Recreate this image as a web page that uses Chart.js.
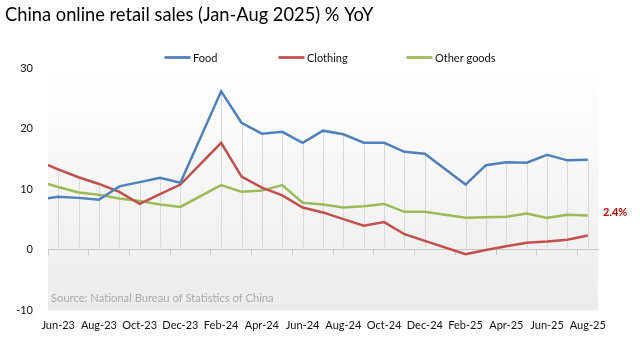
<!DOCTYPE html>
<html>
<head>
<meta charset="utf-8">
<script src="https://cdn.jsdelivr.net/npm/chart.js@4/dist/chart.umd.min.js"></script>
<style>
  html, body { margin: 0; padding: 0; background: #ffffff; }
  canvas { display: block; }
</style>
</head>
<body>
<canvas id="chart" width="640" height="339"></canvas>
<script>
// Monthly YoY growth (%) of online retail sales by category.
// January figures are reported together with February, so they are left empty.
const months = [
  'May-23', 'Jun-23', 'Jul-23', 'Aug-23', 'Sep-23', 'Oct-23', 'Nov-23', 'Dec-23',
  'Jan-24', 'Feb-24', 'Mar-24', 'Apr-24', 'May-24', 'Jun-24', 'Jul-24', 'Aug-24',
  'Sep-24', 'Oct-24', 'Nov-24', 'Dec-24', 'Jan-25', 'Feb-25', 'Mar-25', 'Apr-25',
  'May-25', 'Jun-25', 'Jul-25', 'Aug-25'
];
const food = [
  8.3, 8.8, 8.6, 8.3, 10.5, 11.2, 11.9, 11.1,
  null, 26.2, 21.0, 19.2, 19.5, 17.7, 19.7, 19.1,
  17.7, 17.7, 16.2, 15.9, null, 10.8, 14.0, 14.5,
  14.4, 15.7, 14.8, 14.9
];
const clothing = [
  14.7, 13.3, 12.0, 10.9, 9.6, 7.6, 9.2, 10.8,
  null, 17.7, 12.1, 10.3, 9.0, 7.0, 6.2, 5.1,
  4.0, 4.6, 2.6, 1.5, null, -0.7, 0.0, 0.6,
  1.2, 1.4, 1.7, 2.4
];
const otherGoods = [
  11.4, 10.4, 9.5, 9.1, 8.5, 8.1, 7.5, 7.1,
  null, 10.7, 9.6, 9.8, 10.7, 7.8, 7.5, 7.0,
  7.2, 7.6, 6.3, 6.3, null, 5.3, 5.4, 5.5,
  6.0, 5.3, 5.8, 5.7
];
const seriesNames = ['Food', 'Clothing', 'Other goods'];
const seriesColors = ['#4f81bd', '#c0504d', '#9bbb59'];
const firstMonth = 'Jun-23';
const yMin = -10;
const yMax = 30;
const yStep = 10;
const titleText = 'China online retail sales (Jan-Aug 2025) % YoY';
const sourceText = 'Source: National Bureau of Statistics of China';

const FONT = 'Lato, "Open Sans", "DejaVu Sans", sans-serif';
const TEXT_COLOR = '#111111';
const firstIndex = months.indexOf(firstMonth);

// Soft vertical gradient behind the plot area.
const plotBackground = {
  id: 'plotBackground',
  beforeDraw(chart) {
    const { ctx, chartArea: a } = chart;
    const g = ctx.createLinearGradient(0, a.top, 0, a.bottom);
    g.addColorStop(0, '#ffffff');
    g.addColorStop(1, '#ececec');
    ctx.save();
    ctx.fillStyle = g;
    ctx.fillRect(a.left, a.top, a.right - a.left, a.bottom - a.top);
    ctx.restore();
  }
};

// Drop lines from the highest series at each month down to the zero line.
const dropLines = {
  id: 'dropLines',
  beforeDatasetsDraw(chart) {
    const { ctx } = chart;
    const xs = chart.scales.x;
    const ys = chart.scales.y;
    const zero = ys.getPixelForValue(0);
    ctx.save();
    ctx.strokeStyle = '#d9d9d9';
    ctx.lineWidth = 1;
    for (let i = xs.min; i <= xs.max; i++) {
      const vals = chart.data.datasets
        .map(d => d.data[i])
        .filter(v => v !== null && v !== undefined);
      if (!vals.length) continue;
      const top = Math.max(...vals);
      if (top <= 0) continue;
      const px = Math.round(xs.getPixelForValue(i)) + 0.5;
      ctx.beginPath();
      ctx.moveTo(px, ys.getPixelForValue(top));
      ctx.lineTo(px, zero);
      ctx.stroke();
    }
    ctx.restore();
  }
};

// Title, legend, source note and the end-value callout.
const chartText = {
  id: 'chartText',
  afterDraw(chart) {
    const { ctx, chartArea: a } = chart;
    const ys = chart.scales.y;
    ctx.save();

    ctx.fillStyle = '#000000';
    ctx.font = `18.3px ${FONT}`;
    ctx.textBaseline = 'alphabetic';
    ctx.textAlign = 'left';
    ctx.fillText(titleText, 5, 21);

    const legendStarts = [164.5, 278.5, 406.5];
    ctx.font = `11px ${FONT}`;
    chart.data.datasets.forEach((ds, i) => {
      const sx = legendStarts[i];
      ctx.strokeStyle = ds.borderColor;
      ctx.lineWidth = 2.75;
      ctx.beginPath();
      ctx.moveTo(sx, 57.5);
      ctx.lineTo(sx + 26, 57.5);
      ctx.stroke();
      ctx.fillStyle = TEXT_COLOR;
      ctx.fillText(ds.label, sx + 28.5, 61.5);
    });

    ctx.fillStyle = '#ababab';
    ctx.font = `11.2px ${FONT}`;
    ctx.fillText(sourceText, 51, 302);

    const last = clothing[clothing.length - 1];
    ctx.fillStyle = '#c00000';
    ctx.font = `bold 11px ${FONT}`;
    ctx.fillText(`${last.toFixed(1)}%`, a.right + 5, ys.getPixelForValue(last) - 19);

    ctx.restore();
  }
};

const datasets = [food, clothing, otherGoods].map((values, i) => ({
  label: seriesNames[i],
  data: values,
  xAxisID: 'x',
  yAxisID: 'y',
  borderColor: seriesColors[i],
  backgroundColor: seriesColors[i],
  borderWidth: 2.5,
  pointRadius: 0,
  pointHoverRadius: 0,
  tension: 0,
  spanGaps: true,
  clip: 0,
  fill: false
}));

new Chart(document.getElementById('chart'), {
  type: 'line',
  data: { labels: months, datasets },
  options: {
    responsive: false,
    animation: false,
    devicePixelRatio: 1,
    layout: { padding: { top: 68.3, right: 42, bottom: 0, left: 0 } },
    plugins: {
      legend: { display: false },
      title: { display: false },
      tooltip: { enabled: false }
    },
    scales: {
      x: {
        type: 'category',
        position: 'bottom',
        min: firstMonth,
        offset: true,
        grid: { display: false, drawTicks: false },
        border: { display: false },
        ticks: {
          autoSkip: false,
          maxRotation: 0,
          padding: 8,
          color: TEXT_COLOR,
          font: { family: FONT, size: 11 },
          callback(value) {
            return (value - firstIndex) % 2 === 0 ? this.getLabelForValue(value) : '';
          }
        },
        afterFit(scale) { scale.height = 28.5; }
      },
      xZero: {
        type: 'category',
        position: { y: 0 },
        min: firstMonth,
        offset: true,
        ticks: { display: false, autoSkip: false },
        grid: {
          offset: true,
          drawOnChartArea: false,
          drawTicks: true,
          tickLength: 5,
          color: c => (c.type === 'tick' && c.index % 2 === 0) ? '#c8c8c8' : 'rgba(0,0,0,0)'
        },
        border: { display: true, color: '#c8c8c8', width: 1 }
      },
      y: {
        min: yMin,
        max: yMax,
        grid: { display: false, drawTicks: false },
        border: { display: false },
        ticks: {
          stepSize: yStep,
          padding: 15,
          color: TEXT_COLOR,
          font: { family: FONT, size: 11 }
        },
        afterFit(scale) { scale.width = 48; }
      }
    }
  },
  plugins: [plotBackground, dropLines, chartText]
});
</script>
</body>
</html>
